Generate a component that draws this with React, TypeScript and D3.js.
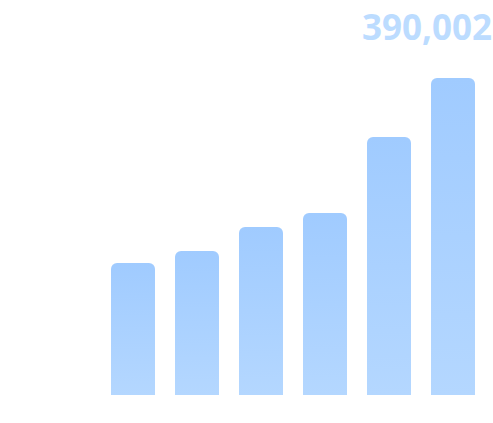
import React from "react";
import * as d3 from "d3";

const categories = ["A", "B", "C", "D", "E", "F"];
const values = [162400, 177200, 206700, 223900, 317400, 390002];
const highlightLabel = "390,002";

const W = 493;
const H = 423;

export default function App() {
  const x = d3.scaleBand<string>().domain(categories).range([101, 485]).paddingInner(20 / 64).paddingOuter(10 / 64 / 1);
  const y = d3.scaleLinear().domain([0, d3.max(values)!]).range([395, 78]);
  const r = 6;
  const barPath = (xi: number, yi: number, w: number, h: number) => {
    const p = d3.path();
    p.moveTo(xi, yi + h);
    p.lineTo(xi, yi + r);
    p.arcTo(xi, yi, xi + r, yi, r);
    p.lineTo(xi + w - r, yi);
    p.arcTo(xi + w, yi, xi + w, yi + r, r);
    p.lineTo(xi + w, yi + h);
    p.closePath();
    return p.toString();
  };
  return (
    <svg width={W} height={H} style={{ position: "absolute", left: 0, top: 0 }}>
      <defs>
        <linearGradient id="barGrad" x1="0" y1="0" x2="0" y2="1">
          <stop offset="0" stopColor="#a0cbff" />
          <stop offset="1" stopColor="#b4d7ff" />
        </linearGradient>
      </defs>
      {categories.map((c, i) => {
        const xi = x(c)!;
        const yi = y(values[i]);
        return <path key={c} d={barPath(xi, yi, x.bandwidth(), y(0) - yi)} fill="url(#barGrad)" />;
      })}
      <text x={492} y={40} textAnchor="end" fontFamily="'Noto Sans', sans-serif" fontWeight="bold" fontSize={35} fill="#bcdcff">
        {highlightLabel}
      </text>
    </svg>
  );
}
